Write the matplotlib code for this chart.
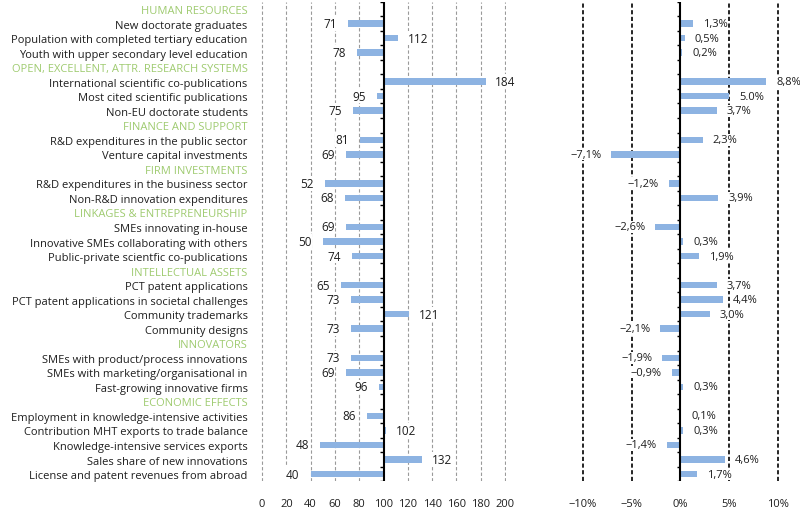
import matplotlib
matplotlib.use("Agg")
import matplotlib.pyplot as plt
import numpy as np

plt.rcParams['font.family'] = ['Open Sans', 'DejaVu Sans']

# rows of the chart, top to bottom; None value = section header
labels = [
    "HUMAN RESOURCES",
    "New doctorate graduates",
    "Population with completed tertiary education",
    "Youth with upper secondary level education",
    "OPEN, EXCELLENT, ATTR. RESEARCH SYSTEMS",
    "International scientific co-publications",
    "Most cited scientific publications",
    "Non-EU doctorate students",
    "FINANCE AND SUPPORT",
    "R&D expenditures in the public sector",
    "Venture capital investments",
    "FIRM INVESTMENTS",
    "R&D expenditures in the business sector",
    "Non-R&D innovation expenditures",
    "LINKAGES & ENTREPRENEURSHIP",
    "SMEs innovating in-house",
    "Innovative SMEs collaborating with others",
    "Public-private scientfic co-publications",
    "INTELLECTUAL ASSETS",
    "PCT patent applications",
    "PCT patent applications in societal challenges",
    "Community trademarks",
    "Community designs",
    "INNOVATORS",
    "SMEs with product/process innovations",
    "SMEs with marketing/organisational in",
    "Fast-growing innovative firms",
    "ECONOMIC EFFECTS",
    "Employment in knowledge-intensive activities",
    "Contribution MHT exports to trade balance",
    "Knowledge-intensive services exports",
    "Sales share of new innovations",
    "License and patent revenues from abroad",
]
index_vals = [None, 71, 112, 78, None, 184, 95, 75, None, 81, 69, None, 52, 68,
              None, 69, 50, 74, None, 65, 73, 121, 73, None, 73, 69, 96,
              None, 86, 102, 48, 132, 40]
growth_vals = [None, 1.3, 0.5, 0.2, None, 8.8, 5.0, 3.7, None, 2.3, -7.1, None, -1.2, 3.9,
               None, -2.6, 0.3, 1.9, None, 3.7, 4.4, 3.0, -2.1, None, -1.9, -0.9, 0.3,
               None, 0.1, 0.3, -1.4, 4.6, 1.7]
growth_txt = [None, "1,3%", "0,5%", "0,2%", None, "8,8%", "5.0%", "3,7%", None, "2,3%", "-7,1%",
              None, "-1,2%", "3,9%", None, "-2,6%", "0,3%", "1,9%", None, "3,7%", "4,4%", "3,0%",
              "-2,1%", None, "-1,9%", "-0,9%", "0,3%", None, "0,1%", "0,3%", "-1,4%", "4,6%", "1,7%"]

bar_col = '#8db3e2'
head_col = '#9fcb70'
txt_col = '#1e1e1e'
n = len(labels)
y = np.arange(n)

fig = plt.figure(figsize=(8, 5.1), dpi=100)
ax1 = fig.add_axes([0.326, 0.0543, 0.3068, 0.9404])
ax2 = fig.add_axes([0.7271, 0.0543, 0.2467, 0.9404])

# ---- left panel: index (EU = 100)
for g in range(0, 201, 20):
    if g != 100:
        ax1.axvline(g, color='#9a9a9a', ls=(0, (3, 2)), lw=0.8, zorder=0)
for i, v in enumerate(index_vals):
    if v is None:
        continue
    ax1.barh(i, v - 100, left=100, height=0.45, color=bar_col, zorder=2)
    if v < 100:
        ax1.annotate(str(v), (v, i), xytext=(-8, 0), textcoords='offset points',
                     ha='right', va='center', fontsize=8.5, color=txt_col, zorder=4,
                     bbox=dict(fc='white', ec='none', pad=0.5))
    else:
        ax1.annotate(str(v), (v, i), xytext=(7, 0), textcoords='offset points',
                     ha='left', va='center', fontsize=8.5, color=txt_col, zorder=4,
                     bbox=dict(fc='white', ec='none', pad=0.5))
ax1.axvline(100, color='black', lw=1.5, zorder=3)
ax1.hlines(np.arange(n + 1) - 0.5, 97.5, 100, color='black', lw=1, zorder=3)
ax1.set_xlim(-1, 201)
ax1.set_ylim(n - 0.5, -0.5)
ax1.set_xticks(range(0, 201, 20))
ax1.set_yticks(y)
ax1.set_yticklabels(labels, fontsize=8)
for lab, v in zip(ax1.get_yticklabels(), index_vals):
    lab.set_color(head_col if v is None else txt_col)
ax1.tick_params(axis='y', length=0, pad=9.5)
ax1.tick_params(axis='x', length=0, pad=12, labelsize=8, colors=txt_col)
for s in ax1.spines.values():
    s.set_visible(False)

# ---- right panel: growth rates
for g in [-10, -5, 5, 10]:
    ax2.axvline(g, color='black', ls=(0, (2.5, 1.5)), lw=1.2, zorder=0)
for i, v in enumerate(growth_vals):
    if v is None:
        continue
    ax2.barh(i, v, height=0.45, color=bar_col, zorder=2)
    off = 7 if v >= 0 else -7
    ax2.annotate(growth_txt[i].replace('-', '\u2212'), (v, i), xytext=(off, 0),
                 textcoords='offset points', ha='left' if v >= 0 else 'right',
                 va='center', fontsize=8, color=txt_col, zorder=4,
                 bbox=dict(fc='white', ec='none', pad=0.5))
ax2.axvline(0, color='black', lw=1.5, zorder=3)
ax2.hlines(np.arange(n + 1) - 0.5, -0.3, 0, color='black', lw=1, zorder=3)
ax2.set_xlim(-10.1, 10.1)
ax2.set_ylim(n - 0.5, -0.5)
ax2.set_xticks([-10, -5, 0, 5, 10])
ax2.set_xticklabels(['\u221210%', '\u22125%', '0%', '5%', '10%'])
ax2.set_yticks([])
ax2.tick_params(axis='x', length=0, pad=12, labelsize=8, colors=txt_col)
for s in ax2.spines.values():
    s.set_visible(False)

fig.savefig('out.png', dpi=100, facecolor='white')
